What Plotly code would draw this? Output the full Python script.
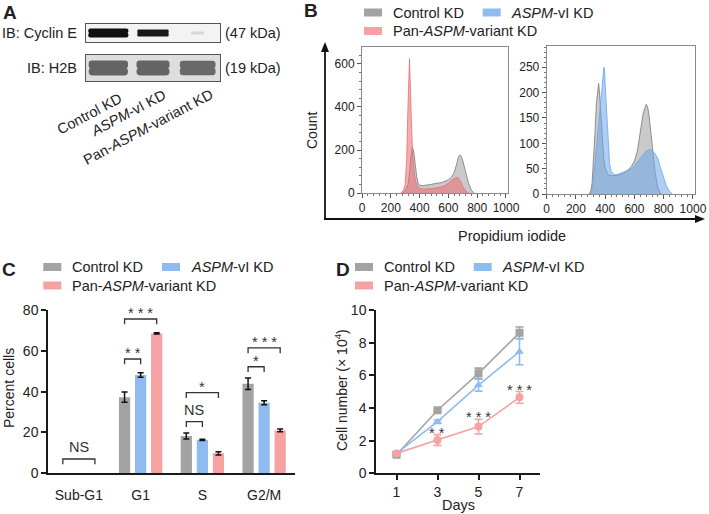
import plotly.graph_objects as go

W, H = 709, 514
FONT = "Arial, 'Liberation Sans', Helvetica, sans-serif"
TXT = "#222222"


def fx(p):
    return p / W


def fy(p):
    return 1 - p / H


# ------------------------------------------------------------------ data
series_names = ["Control KD", "<i>ASPM</i>-vI KD", "Pan-<i>ASPM</i>-variant KD"]
col_gray = "#a3a3a3"
col_blue = "#8fbcf0"
col_pink = "#f6a2a2"

# Panel A: western blot band densities (lanes 1..3)
blot_lanes = [1, 2, 3]
blot_lane_labels = ["Control KD", "<i>ASPM</i>-vI KD", "Pan-<i>ASPM</i>-variant KD"]
cyclin_e_density = [1.00, 0.96, 0.10]
cyclin_e_band_w = [0.90, 0.70, 0.30]
cyclin_e_band_h = [1.00, 0.80, 0.35]
h2b_density = [0.62, 0.62, 0.60]
h2b_band_w = [0.88, 0.74, 0.80]
h2b_band_h = [1.15, 1.15, 1.10]

# Panel B: propidium iodide histograms
hl_ctrl_x = [280, 300, 320, 330, 340, 350, 360, 370, 380, 390, 400, 420, 440, 460, 480, 500, 520, 540, 560, 580,
             600, 620, 640, 660, 670, 680, 690, 700, 720, 740, 760, 780]
hl_ctrl_y = [0, 8, 40, 90, 170, 212, 190, 130, 75, 45, 36, 34, 35, 36, 40, 43, 44, 47, 50, 55,
             62, 72, 95, 140, 170, 177, 170, 150, 95, 45, 12, 0]
hl_pan_x = [270, 290, 300, 310, 320, 330, 340, 350, 360, 370, 380, 390, 400, 420, 440, 460, 480, 500, 520, 540,
            560, 580, 600, 620, 640, 660, 670, 680, 690, 700, 720, 740]
hl_pan_y = [0, 15, 40, 150, 420, 625, 400, 200, 110, 60, 38, 28, 22, 18, 18, 19, 20, 22, 24, 26,
            30, 35, 45, 58, 68, 72, 70, 60, 45, 30, 10, 0]
hr_ctrl_x = [290, 300, 310, 320, 330, 340, 350, 355, 360, 370, 380, 390, 400, 420, 440, 460, 480, 500, 520, 540,
             560, 580, 600, 620, 640, 660, 680, 690, 700, 720, 740, 760, 780]
hr_ctrl_y = [0, 5, 20, 60, 120, 180, 212, 218, 205, 160, 110, 70, 50, 38, 36, 36, 37, 38, 40, 44,
             48, 55, 65, 85, 120, 160, 177, 172, 155, 100, 45, 12, 0]
hr_vI_x = [300, 310, 320, 330, 340, 350, 360, 370, 380, 390, 395, 400, 410, 420, 430, 440, 460, 480, 500, 520,
           540, 560, 580, 600, 620, 640, 660, 680, 700, 720, 740, 760, 780, 800, 820, 840, 860]
hr_vI_y = [0, 8, 30, 60, 95, 125, 145, 170, 215, 250, 248, 215, 160, 100, 60, 45, 38, 38, 40, 42,
           45, 48, 50, 55, 62, 70, 78, 85, 88, 86, 80, 70, 50, 30, 15, 5, 0]

# Panel C: cell-cycle distribution (Sub-G1 is ~0 in every group)
phases = ["Sub-G1", "G1", "S", "G2/M"]
pct_ctrl = [0, 37.3, 18.3, 43.9]
pct_ctrl_err = [0, 2.5, 1.5, 2.8]
pct_vI = [0, 48.2, 16.4, 34.6]
pct_vI_err = [0, 1.1, 0.3, 1.0]
pct_pan = [0, 68.5, 9.8, 21.0]
pct_pan_err = [0, 0.3, 0.8, 0.7]
# (phase index, bar a, bar b, bracket level, label)
sig_c = [(0, 0, 2, 7.0, "NS"), (1, 0, 1, 56.0, "* *"), (1, 0, 2, 75.6, "* * *"),
         (2, 0, 1, 25.3, "NS"), (2, 0, 2, 39.5, "*"), (3, 0, 1, 52.2, "*"), (3, 0, 2, 61.4, "* * *")]

# Panel D: growth curves
days = [1, 3, 5, 7]
cells_ctrl = [1.14, 3.86, 6.12, 8.60]
cells_ctrl_err = [0.08, 0.08, 0.32, 0.36]
cells_vI = [1.22, 3.16, 5.40, 7.45]
cells_vI_err = [0.08, 0.10, 0.37, 0.80]
cells_pan = [1.22, 2.04, 2.86, 4.65]
cells_pan_err = [0.08, 0.33, 0.45, 0.36]
sig_d = [(3, 2.67, "* *"), (5, 3.65, "* * *"), (7, 5.28, "* * *")]

# ------------------------------------------------------------------ figure
fig = go.Figure()


def gray_of(d):
    v = int(round(238 - d * 222))
    return f"rgb({v},{v},{v})"


def blot_trace(dens, bw, bh, xa, ya):
    ov = 0.04  # overlap of upper/lower halves so no seam shows
    return go.Bar(
        x=blot_lanes + blot_lanes,
        y=[h / 2 + ov for h in bh] + [-h / 2 - ov for h in bh],
        base=[-ov] * 3 + [ov] * 3,
        width=bw + bw,
        marker=dict(color=[gray_of(d) for d in dens] * 2, cornerradius=8, line=dict(width=0)),
        xaxis=xa, yaxis=ya, showlegend=False, hoverinfo="skip",
    )


fig.add_trace(blot_trace(cyclin_e_density, cyclin_e_band_w, cyclin_e_band_h, "x", "y"))
fig.add_trace(blot_trace(h2b_density, h2b_band_w, h2b_band_h, "x6", "y6"))


def hist(xv, yv, fill, line, xa, ya):
    return go.Scatter(x=xv, y=yv, mode="lines", fill="tozeroy", fillcolor=fill,
                      line=dict(color=line, width=1), xaxis=xa, yaxis=ya,
                      showlegend=False, hoverinfo="skip")


g_fill, g_line = "rgba(150,150,150,0.5)", "rgba(120,120,120,0.8)"
r_fill, r_line = "rgba(236,105,110,0.55)", "rgba(230,110,115,0.8)"
b_fill, b_line = "rgba(110,165,235,0.55)", "rgba(110,165,235,0.8)"
fig.add_trace(hist(hl_ctrl_x, hl_ctrl_y, g_fill, g_line, "x2", "y2"))
fig.add_trace(hist(hl_pan_x, hl_pan_y, r_fill, r_line, "x2", "y2"))
fig.add_trace(hist(hr_ctrl_x, hr_ctrl_y, g_fill, g_line, "x3", "y3"))
fig.add_trace(hist(hr_vI_x, hr_vI_y, b_fill, b_line, "x3", "y3"))

bar_cols = [col_gray, col_blue, col_pink]
for vals, errs, c, n in zip([pct_ctrl, pct_vI, pct_pan], [pct_ctrl_err, pct_vI_err, pct_pan_err], bar_cols, series_names):
    # zero-height bars (Sub-G1) are left undrawn, as in the original (no visible bar or cap)
    yv = [v if v > 0 else None for v in vals]
    ev = [e if v > 0 else None for v, e in zip(vals, errs)]
    fig.add_trace(go.Bar(x=phases, y=yv, name=n, marker=dict(color=c, line=dict(width=0)),
                         error_y=dict(type="data", array=ev, color="#111", thickness=1.5, width=3),
                         xaxis="x4", yaxis="y4", showlegend=False))

for vals, errs, c, sym in zip([cells_ctrl, cells_vI, cells_pan], [cells_ctrl_err, cells_vI_err, cells_pan_err],
                              [col_gray, col_blue, col_pink], ["square", "triangle-up", "circle"]):
    fig.add_trace(go.Scatter(x=days, y=vals, mode="lines+markers",
                             line=dict(color=c, width=1.6), marker=dict(color=c, symbol=sym, size=8),
                             error_y=dict(type="data", array=errs, color=c, thickness=1.6, width=4),
                             xaxis="x5", yaxis="y5", showlegend=False))

# ------------------------------------------------------------------ axes
BARGAP = 0.22
blank = dict(showgrid=False, zeroline=False, showticklabels=False, ticks="")
blot_frame = dict(showline=True, mirror=True, linecolor="#555", linewidth=1)
hist_ax = dict(showgrid=False, zeroline=False, showline=True, mirror=True, linecolor="#8a8a8a", linewidth=1,
               ticks="outside", ticklen=4, tickcolor="#555", tickfont=dict(size=12, color=TXT))
bold_ax = dict(showgrid=False, zeroline=False, showline=True, linecolor="#1a1a1a", linewidth=1.5,
               tickfont=dict(size=14, color=TXT))
minor_t = dict(ticks="outside", ticklen=2, tickcolor="#777")

fig.update_layout(
    width=W, height=H, margin=dict(l=0, r=0, t=0, b=0), template="none",
    paper_bgcolor="white", plot_bgcolor="white",
    font=dict(family=FONT, color=TXT, size=14),
    barmode="group", bargap=BARGAP, bargroupgap=0.3, showlegend=False,
    xaxis=dict(domain=[fx(86), fx(220)], range=[0.5, 3.5], anchor="y", **blank, **blot_frame),
    yaxis=dict(domain=[fy(42), fy(24)], range=[-1, 1], anchor="x", **blank, **blot_frame),
    xaxis6=dict(domain=[fx(86), fx(220)], range=[0.5, 3.5], anchor="y6", **blank, **blot_frame),
    yaxis6=dict(domain=[fy(81), fy(55)], range=[-1, 1], anchor="x6", **blank, **blot_frame),
    xaxis2=dict(domain=[fx(362), fx(508)], range=[0, 1014], anchor="y2", tickvals=[0, 200, 400, 600, 800, 1000],
                minor=dict(dtick=40, **minor_t), **hist_ax),
    yaxis2=dict(domain=[fy(193), fy(47)], range=[0, 679], anchor="x2", tickvals=[0, 200, 400, 600],
                minor=dict(dtick=40, **minor_t), **hist_ax),
    xaxis3=dict(domain=[fx(546.7), fx(695)], range=[0, 1014], anchor="y3", tickvals=[0, 200, 400, 600, 800, 1000],
                minor=dict(dtick=40, **minor_t), **hist_ax),
    yaxis3=dict(domain=[fy(194), fy(46)], range=[0, 292], anchor="x3", tickvals=[0, 50, 100, 150, 200, 250],
                minor=dict(dtick=10, **minor_t), **hist_ax),
    xaxis4=dict(domain=[fx(48), fx(295)], range=[-0.5, 3.5], anchor="y4", type="category",
                categoryorder="array", categoryarray=phases, ticks="", ticklabelstandoff=8, **bold_ax),
    yaxis4=dict(domain=[fy(473.3), fy(310)], range=[0, 80], anchor="x4", tickvals=[0, 20, 40, 60, 80],
                ticks="outside", ticklen=5, tickwidth=1.5, tickcolor="#1a1a1a", **bold_ax),
    xaxis5=dict(domain=[fx(376), fx(540)], range=[0, 8], anchor="y5", tickvals=days,
                ticks="outside", ticklen=5, tickwidth=1.5, tickcolor="#1a1a1a", **bold_ax),
    yaxis5=dict(domain=[fy(473.3), fy(310)], range=[0, 10], anchor="x5", tickvals=[0, 2, 4, 6, 8, 10],
                ticks="outside", ticklen=5, tickwidth=1.5, tickcolor="#1a1a1a", **bold_ax),
)

shapes = []
annos = []

for xr, yr, c in [("x", "y", "#f3f3f3"), ("x6", "y6", "#dedede")]:
    shapes.append(dict(type="rect", xref=f"{xr} domain", yref=f"{yr} domain", x0=0, x1=1, y0=0, y1=1,
                       fillcolor=c, line=dict(width=0), layer="below"))


def text(x, y, t, size=14, xanchor="center", yanchor="middle", angle=0, **kw):
    annos.append(dict(x=fx(x), y=fy(y), xref="paper", yref="paper", text=t, showarrow=False,
                      xanchor=xanchor, yanchor=yanchor, textangle=angle,
                      font=dict(size=size, color=TXT, family=FONT), **kw))


for (x, y, t) in [(10, 12, "A"), (311, 10, "B"), (9, 269, "C"), (343, 269, "D")]:
    text(x, y, f"<b>{t}</b>", size=19)

text(79, 33, "IB: Cyclin E", size=14.5, xanchor="right")
text(79, 68, "IB: H2B", size=14.5, xanchor="right")
text(223, 33, "(47 kDa)", size=14.5, xanchor="left")
text(223, 68, "(19 kDa)", size=14.5, xanchor="left")
for (cx, cy), lab in zip([(89, 114), (128, 113), (148, 127)], blot_lane_labels):
    text(cx, cy, lab, size=14.5, angle=-28)


def legend(x0, y1, y2):
    for (dx, yy), c, n in zip([(0, y1), (118.7, y1), (0, y2)], bar_cols, series_names):
        shapes.append(dict(type="rect", xref="paper", yref="paper", x0=fx(x0 + dx), x1=fx(x0 + dx + 18),
                           y0=fy(yy + 4), y1=fy(yy - 4), fillcolor=c, line=dict(width=0)))
        text(x0 + dx + 26.7, yy, n, size=14.5, xanchor="left")


legend(364, 12.5, 31)
legend(43.3, 267, 285.5)
legend(355, 267, 285.5)

# panel B axis titles and arrows (drawn as shapes)
text(312, 131, "Count", size=14, angle=-90)
text(512, 236, "Propidium iodide", size=14.5)
arrow_line = dict(color="#111", width=1.8)
shapes.append(dict(type="line", xref="paper", yref="paper", x0=fx(325), x1=fx(325), y0=fy(219.9), y1=fy(50),
                   line=arrow_line))
shapes.append(dict(type="path", xref="paper", yref="paper",
                   path=f"M {fx(325)},{fy(42)} L {fx(321)},{fy(52)} L {fx(329)},{fy(52)} Z",
                   fillcolor="#111", line=dict(width=0)))
shapes.append(dict(type="line", xref="paper", yref="paper", x0=fx(324.1), x1=fx(697), y0=fy(219), y1=fy(219),
                   line=arrow_line))
shapes.append(dict(type="path", xref="paper", yref="paper",
                   path=f"M {fx(705)},{fy(219)} L {fx(695)},{fy(215)} L {fx(695)},{fy(223)} Z",
                   fillcolor="#111", line=dict(width=0)))

# panel C titles and significance brackets
text(9, 388, "Percent cells", size=14, angle=-90)
slot = (1 - BARGAP) / 3
for (pi, a, b, lvl, lab) in sig_c:
    xa_ = pi + (a - 1) * slot
    xb_ = pi + (b - 1) * slot
    drop = 2.6
    shapes.append(dict(type="path", xref="x4", yref="y4",
                       path=f"M {xa_},{lvl - drop} L {xa_},{lvl} L {xb_},{lvl} L {xb_},{lvl - drop}",
                       line=dict(color="#333", width=1.3)))
    annos.append(dict(x=(xa_ + xb_) / 2, y=lvl, xref="x4", yref="y4", text=lab, showarrow=False,
                      xanchor="center", yanchor="bottom", yshift=(-4 if "*" in lab else 2),
                      font=dict(size=14.5, color="#333", family=FONT)))

# panel D titles and stars
text(458, 505, "Days", size=14.5)
text(341, 390, "Cell number (× 10<sup>4</sup>)", size=14, angle=-90)
for (d, yv, lab) in sig_d:
    annos.append(dict(x=d, y=yv, xref="x5", yref="y5", text=lab, showarrow=False,
                      xanchor="center", yanchor="middle", yshift=-3,
                      font=dict(size=14.5, color="#333", family=FONT)))

fig.update_layout(shapes=shapes, annotations=annos)
fig.write_html("out.html", config={"displayModeBar": False},
               post_script="document.body.style.margin='0';document.body.style.overflow='hidden';")
